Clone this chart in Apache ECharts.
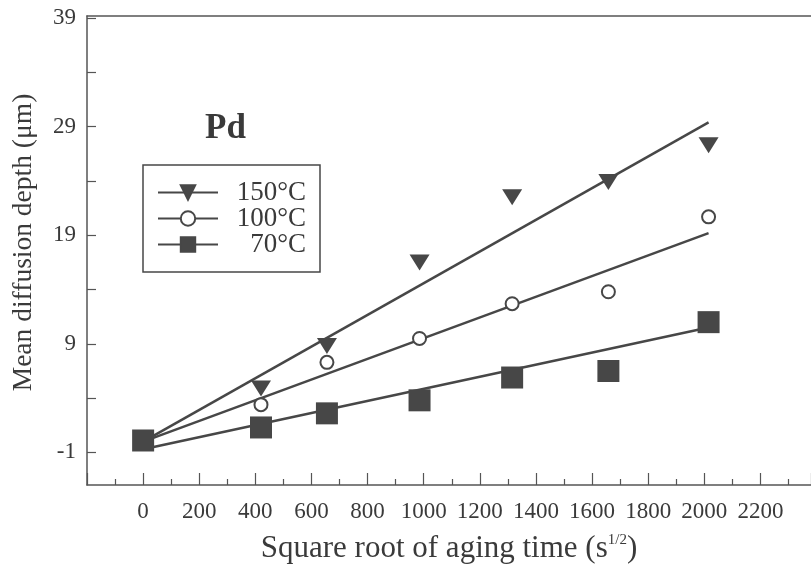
<!DOCTYPE html>
<html>
<head>
<meta charset="utf-8">
<script src="https://cdn.jsdelivr.net/npm/echarts@6/dist/echarts.min.js"></script>
<style>
  html, body { margin: 0; padding: 0; background: #ffffff; }
  #chart { width: 811px; height: 567px; }
</style>
</head>
<body>
<div id="chart"></div>
<script>
// Square root of aging time (s^1/2) for each measurement
const agingRootTime = [0, 420, 655, 985, 1315, 1658, 2015];

// Mean diffusion depth (µm) measured at each temperature
const depth150 = [0.1, 4.9, 8.8, 16.5, 22.5, 23.9, 27.3];
const depth100 = [0.1, 3.4, 7.3, 9.5, 12.7, 13.8, 20.7];
const depth70  = [0.1, 1.3, 2.6, 3.8, 5.9, 6.5, 11.0];

// Linear fits: depth at the start and end of the fitted range
const fitRange = [0, 2015];
const fit150 = [0.0, 29.4];
const fit100 = [0.0, 19.2];
const fit70  = [-0.7, 10.5];

// Axis ticks
const yLabelTicks = [-1, 9, 19, 29, 39];
const yAllTicks = [-1, 4, 9, 14, 19, 24, 29, 34, 39];

const temps = ['150°C', '100°C', '70°C'];

const ink = '#474747';
const frame = '#555555';
const textInk = '#3a3a3a';
const serif = '"Liberation Serif", "Times New Roman", serif';

const pairs = (xs, ys) => xs.map((x, i) => [x, ys[i]]);

const markers = [
  { symbol: 'triangle', rotate: 180, size: [20, 16] },
  { symbol: 'emptyCircle', rotate: 0, size: 13 },
  { symbol: 'rect', rotate: 0, size: 22 }
];
const measured = [depth150, depth100, depth70];
const fits = [fit150, fit100, fit70];

const series = [];
// fitted lines first so the legend picks up their line + marker icon
temps.forEach((name, i) => {
  series.push({
    name: name,
    type: 'line',
    data: pairs(fitRange, fits[i]),
    showSymbol: false,
    symbol: markers[i].symbol,
    symbolRotate: markers[i].rotate,
    symbolSize: markers[i].size,
    lineStyle: { color: ink, width: 2.5 },
    itemStyle: { color: ink, borderColor: ink, borderWidth: 2.5 },
    emphasis: { disabled: true },
    silent: true,
    animation: false,
    z: 2
  });
});
temps.forEach((name, i) => {
  series.push({
    name: name,
    type: 'scatter',
    data: pairs(agingRootTime, measured[i]),
    symbol: markers[i].symbol,
    symbolRotate: markers[i].rotate,
    symbolSize: markers[i].size,
    itemStyle: { color: ink, borderColor: ink, borderWidth: markers[i].symbol === 'emptyCircle' ? 2.5 : 0, opacity: 1 },
    emphasis: { disabled: true },
    silent: true,
    animation: false,
    z: 3 + i
  });
});

const xMin = -200;
const xMax = 2380;

const chart = echarts.init(document.getElementById('chart'), null, { renderer: 'canvas' });
chart.setOption({
  backgroundColor: '#ffffff',
  animation: false,
  title: {
    text: 'Pd',
    left: 205,
    top: 111,
    padding: 0,
    textStyle: { fontFamily: serif, fontWeight: 'bold', fontSize: 35, color: textInk }
  },
  legend: {
    data: temps,
    orient: 'vertical',
    left: 143,
    top: 165,
    itemWidth: 60,
    itemHeight: 18,
    itemGap: -1,
    itemTextGap: 10,
    padding: [14, 14, 14, 14],
    borderColor: ink,
    borderWidth: 1.5,
    selectedMode: false,
    formatter: name => '{t|' + name + '}',
    textStyle: {
      fontFamily: serif,
      fontSize: 27,
      color: textInk,
      rich: { t: { width: 83, align: 'right', fontFamily: serif, fontSize: 27, color: textInk } }
    }
  },
  grid: {
    left: 87,
    right: 0,
    top: 16,
    bottom: 82,
    show: false,
    outerBoundsMode: 'none'
  },
  xAxis: [{
    type: 'value',
    min: xMin,
    max: xMax,
    interval: 200,
    name: 'Square root of aging time (s{sup|1/2})',
    nameLocation: 'middle',
    nameGap: 48,
    nameTextStyle: {
      fontFamily: serif,
      fontSize: 31,
      color: textInk,
      rich: { sup: { fontFamily: serif, fontSize: 15, color: textInk, verticalAlign: 'top', padding: [0, 0, 14, 0] } }
    },
    axisLine: { show: true, onZero: false, lineStyle: { color: frame, width: 1.5 } },
    axisTick: { show: true, inside: true, length: 12, lineStyle: { color: frame, width: 1.2 } },
    minorTick: { show: true, splitNumber: 2, length: 6, lineStyle: { color: frame, width: 1.2 } },
    splitLine: { show: false },
    axisLabel: {
      margin: 15,
      fontFamily: serif,
      fontSize: 23,
      color: textInk,
      formatter: v => (v < 0 || v > 2200) ? '' : String(v)
    }
  }, {
    // top frame line of the plot area
    type: 'value',
    position: 'top',
    min: xMin,
    max: xMax,
    axisLine: { show: true, onZero: false, lineStyle: { color: frame, width: 1.5 } },
    axisTick: { show: false },
    axisLabel: { show: false },
    splitLine: { show: false }
  }],
  yAxis: {
    type: 'value',
    min: -4,
    max: 39.2,
    name: 'Mean diffusion depth (μm)',
    nameLocation: 'middle',
    nameGap: 49,
    nameTextStyle: { fontFamily: serif, fontSize: 27.5, color: textInk, padding: [0, 0, 0, 16] },
    axisLine: { show: true, onZero: false, lineStyle: { color: frame, width: 1.5 } },
    axisTick: { show: true, inside: true, length: 9, customValues: yAllTicks, lineStyle: { color: frame, width: 1.2 } },
    splitLine: { show: false },
    axisLabel: {
      margin: 11,
      fontFamily: serif,
      fontSize: 23,
      color: textInk,
      customValues: yLabelTicks
    }
  },
  series: series
});
</script>
</body>
</html>
